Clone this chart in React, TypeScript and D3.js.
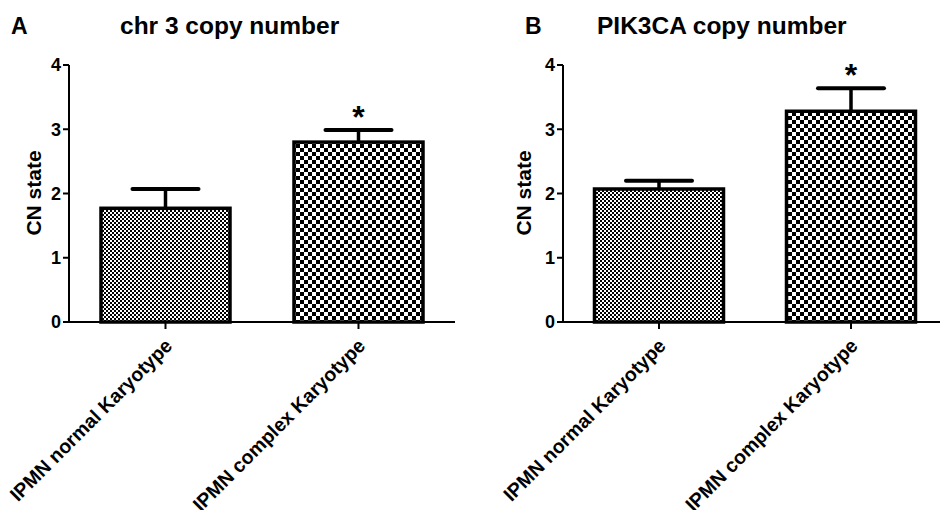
import React from "react";
import * as d3 from "d3";

// values (mean and SEM of copy-number state)
const categories = ["IPMN normal Karyotype", "IPMN complex Karyotype"];
const chr3Means = [1.77, 2.8];
const chr3Sem = [0.3, 0.19];
const pik3caMeans = [2.07, 3.28];
const pik3caSem = [0.13, 0.36];
const significance = ["", "*"];
const yTicks = [0, 1, 2, 3, 4];

const FONT = "'Liberation Sans', Arial, sans-serif";
const patternIds = ["fineChecker", "coarseChecker"];

const yScale = d3.scaleLinear().domain([0, 4]).range([322, 65]);

type PanelProps = {
  letter: string;
  title: string;
  means: number[];
  sem: number[];
  axisX: number;
  axisEnd: number;
  letterX: number;
  titleX: number;
  labelX: number;
};

const Panel = (props: PanelProps) => {
  const x = d3
    .scalePoint<string>()
    .domain(categories)
    .range([props.axisX, props.axisEnd])
    .padding(0.5);
  const barW = 129;
  const capHalf = 33;
  const base = yScale(0);

  return (
    <g>
      <text x={props.letterX} y={34} fontFamily={FONT} fontWeight="bold" fontSize={23}>
        {props.letter}
      </text>
      <text x={props.titleX} y={34} fontFamily={FONT} fontWeight="bold" fontSize={24.5}>
        {props.title}
      </text>
      <text
        transform={`translate(${props.labelX}, 193) rotate(-90)`}
        textAnchor="middle"
        fontFamily={FONT}
        fontWeight="bold"
        fontSize={21}
      >
        CN state
      </text>

      {categories.map((c, i) => {
        const cx = x(c) as number;
        const top = yScale(props.means[i]);
        const errTop = yScale(props.means[i] + props.sem[i]);
        return (
          <g key={c}>
            <line x1={cx} x2={cx} y1={top} y2={errTop} stroke="#000" strokeWidth={3.5} />
            <line x1={cx - capHalf} x2={cx + capHalf} y1={errTop} y2={errTop} stroke="#000" strokeWidth={4} strokeLinecap="round" />
            <rect
              x={cx - barW / 2}
              y={top}
              width={barW}
              height={base - top}
              fill={`url(#${patternIds[i]})`}
              stroke="#000"
              strokeWidth={3.5}
            />
            {significance[i] && (
              <text
                x={cx}
                y={errTop - 21}
                textAnchor="middle"
                fontFamily={FONT}
                fontWeight="bold"
                fontSize={32}
              >
                <tspan dy="0.6em">{significance[i]}</tspan>
              </text>
            )}
            <line x1={cx} x2={cx} y1={base} y2={base + 7} stroke="#000" strokeWidth={2} />
            <text
              transform={`translate(${cx + 8}, ${base + 25}) rotate(-45)`}
              textAnchor="end"
              fontFamily={FONT}
              fontWeight="bold"
              fontSize={19.5}
            >
              {c}
            </text>
          </g>
        );
      })}

      {/* axes */}
      <line x1={props.axisX} x2={props.axisX} y1={yScale(4)} y2={base} stroke="#000" strokeWidth={2} />
      <line x1={props.axisX - 6} x2={props.axisEnd} y1={base} y2={base} stroke="#000" strokeWidth={2} />
      {yTicks.map((t) => (
        <g key={t}>
          <line x1={props.axisX - 6} x2={props.axisX} y1={yScale(t)} y2={yScale(t)} stroke="#000" strokeWidth={2} />
          <text
            x={props.axisX - 8}
            y={yScale(t)}
            dy="0.36em"
            textAnchor="end"
            fontFamily={FONT}
            fontWeight="bold"
            fontSize={18}
          >
            {t}
          </text>
        </g>
      ))}
    </g>
  );
};

export default function App() {
  return (
    <div style={{ position: "absolute", left: 0, top: 0, background: "#fff" }}>
      <svg width={940} height={510} style={{ display: "block" }}>
        <defs>
          <pattern id="fineChecker" width={4} height={4} patternUnits="userSpaceOnUse">
            <rect width={4} height={4} fill="#fff" />
            <rect width={2} height={2} fill="#000" />
            <rect x={2} y={2} width={2} height={2} fill="#000" />
          </pattern>
          <pattern id="coarseChecker" width={8} height={8} patternUnits="userSpaceOnUse">
            <rect width={8} height={8} fill="#fff" />
            <rect width={4} height={4} fill="#000" />
            <rect x={4} y={4} width={4} height={4} fill="#000" />
          </pattern>
        </defs>
        <rect width={940} height={510} fill="#fff" />
        <Panel
          letter="A"
          title="chr 3 copy number"
          means={chr3Means}
          sem={chr3Sem}
          axisX={69}
          axisEnd={455}
          letterX={11}
          titleX={120}
          labelX={41}
        />
        <Panel
          letter="B"
          title="PIK3CA copy number"
          means={pik3caMeans}
          sem={pik3caSem}
          axisX={563}
          axisEnd={947}
          letterX={525}
          titleX={597}
          labelX={531}
        />
      </svg>
    </div>
  );
}
